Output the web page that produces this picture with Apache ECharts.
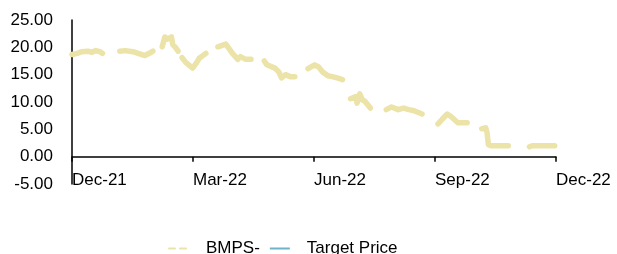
<!DOCTYPE html>
<html>
<head>
<meta charset="utf-8">
<script src="https://cdn.jsdelivr.net/npm/echarts@6/dist/echarts.min.js"></script>
<style>
    html, body { margin: 0; padding: 0; background: #fff; }
    #chart1 { width: 617px; height: 254px; }
</style>
</head>
<body>
<div id="chart1"></div>
<script>
    // tick labels
    var tickLabels = ['Dec-21', 'Mar-22', 'Jun-22', 'Sep-22', 'Dec-22'];
    var seriesNames = ['BMPS-', 'Target Price'];

    // share price, null = gap in the line
    var dates = [
        '2021-12-01', '2021-12-05', '2021-12-08', '2021-12-13', '2021-12-16', '2021-12-19', '2021-12-22', '2021-12-24', '2021-12-28',
        '2022-01-06', '2022-01-10', '2022-01-16', '2022-01-21', '2022-01-25', '2022-01-29', '2022-01-31', '2022-02-03',
        '2022-02-07', '2022-02-09', '2022-02-11', '2022-02-14', '2022-02-15', '2022-02-17', '2022-02-19', '2022-02-21',
        '2022-02-22', '2022-02-25', '2022-03-02', '2022-03-05', '2022-03-07', '2022-03-12', '2022-03-14',
        '2022-03-21', '2022-03-27', '2022-04-01', '2022-04-05', '2022-04-07', '2022-04-11', '2022-04-15', '2022-04-20',
        '2022-04-25', '2022-04-27', '2022-05-03', '2022-05-06', '2022-05-08', '2022-05-11', '2022-05-15', '2022-05-18', '2022-05-22',
        '2022-05-28', '2022-06-02', '2022-06-05', '2022-06-08', '2022-06-12', '2022-06-16', '2022-06-19', '2022-06-23', '2022-06-27',
        '2022-06-29', '2022-07-03', '2022-07-04', '2022-07-06', '2022-07-08', '2022-07-10', '2022-07-14', '2022-07-19',
        '2022-07-26', '2022-07-30', '2022-08-04', '2022-08-08', '2022-08-12', '2022-08-16', '2022-08-22', '2022-08-28',
        '2022-09-03', '2022-09-06', '2022-09-10', '2022-09-13', '2022-09-18', '2022-09-21', '2022-09-25', '2022-10-02',
        '2022-10-06', '2022-10-09', '2022-10-10', '2022-10-11', '2022-10-13', '2022-10-20', '2022-10-26', '2022-11-06',
        '2022-11-11', '2022-11-13', '2022-11-19', '2022-11-30'
    ];
    var prices = [
        18.7, 18.9, 19.2, 19.3, 19.1, 19.4, 19.2, 18.9, null,
        19.3, 19.4, 19.2, 18.8, 18.5, 19.0, 19.3, null,
        20.1, 21.9, 21.5, 21.9, 20.5, 20.0, 19.3, null,
        18.1, 17.2, 16.2, 17.2, 18.0, 18.9, null,
        20.1, 20.6, 18.9, 17.8, 18.3, 17.8, 17.8, null,
        17.5, 16.8, 16.2, 15.5, 14.4, 15.0, 14.6, 14.6, null,
        16.1, 16.8, 16.4, 15.5, 14.8, 14.6, 14.4, 14.1, null,
        10.6, 11.0, 9.8, 11.5, 10.4, 10.1, 8.9, null,
        8.6, 9.1, 8.6, 8.9, 8.6, 8.4, 7.8, null,
        6.0, 6.8, 7.8, 7.3, 6.2, 6.2, 6.2, null,
        5.1, 5.3, 4.4, 2.2, 2.0, 2.0, 2.0, null,
        1.8, 2.0, 2.0, 2.0
    ];
    var targetPrice = [];

    var start = Date.UTC(2021, 11, 1);
    function toMonths(d) {
        var p = d.split('-');
        return (Date.UTC(+p[0], +p[1] - 1, +p[2]) - start) / 86400000 / 365 * 12;
    }
    var lineData = dates.map(function (d, i) { return [toMonths(d), prices[i]]; });

    var myChart = echarts.init(document.getElementById('chart1'));
    myChart.setOption({
        animation: false,
        textStyle: { fontFamily: 'Liberation Sans, Arial, sans-serif' },
        grid: { left: 72, right: 61, top: 20, bottom: 70, containLabel: false },
        legend: {
            data: [
                { name: seriesNames[0], lineStyle: { type: [6, 5] } },
                { name: seriesNames[1] }
            ],
            left: 168,
            top: 240,
            padding: 0,
            itemWidth: 20,
            itemHeight: 10,
            itemGap: 9,
            itemStyle: { opacity: 0 },
            lineStyle: { width: 2 },
            textStyle: { fontSize: 17, color: '#000', padding: [0, 0, 0, 12] }
        },
        xAxis: {
            type: 'value',
            min: 0,
            max: 12,
            interval: 3,
            axisLine: { onZero: true, lineStyle: { color: '#000', width: 1.5 } },
            axisTick: { show: true, length: 5, lineStyle: { color: '#000', width: 1.5 } },
            splitLine: { show: false },
            axisLabel: {
                fontSize: 17,
                color: '#000',
                align: 'left',
                margin: -12,
                formatter: function (v) { return tickLabels[Math.round(v / 3)]; }
            }
        },
        yAxis: {
            type: 'value',
            min: -5,
            max: 25,
            interval: 5,
            axisLine: { show: true, lineStyle: { color: '#000', width: 1.5 } },
            axisTick: { show: false },
            splitLine: { show: false },
            axisLabel: {
                fontSize: 17,
                color: '#000',
                margin: 19,
                formatter: function (v) { return v.toFixed(2); }
            }
        },
        series: [
            {
                name: seriesNames[0],
                type: 'line',
                data: lineData,
                symbol: 'none',
                connectNulls: false,
                color: '#ECE3A8',
                lineStyle: { width: 5.5, color: '#ECE3A8', cap: 'round', join: 'round' }
            },
            {
                name: seriesNames[1],
                type: 'line',
                data: targetPrice,
                symbol: 'none',
                color: '#6FB3C9',
                lineStyle: { width: 2, color: '#6FB3C9' }
            }
        ]
    });
</script>
</body>
</html>
